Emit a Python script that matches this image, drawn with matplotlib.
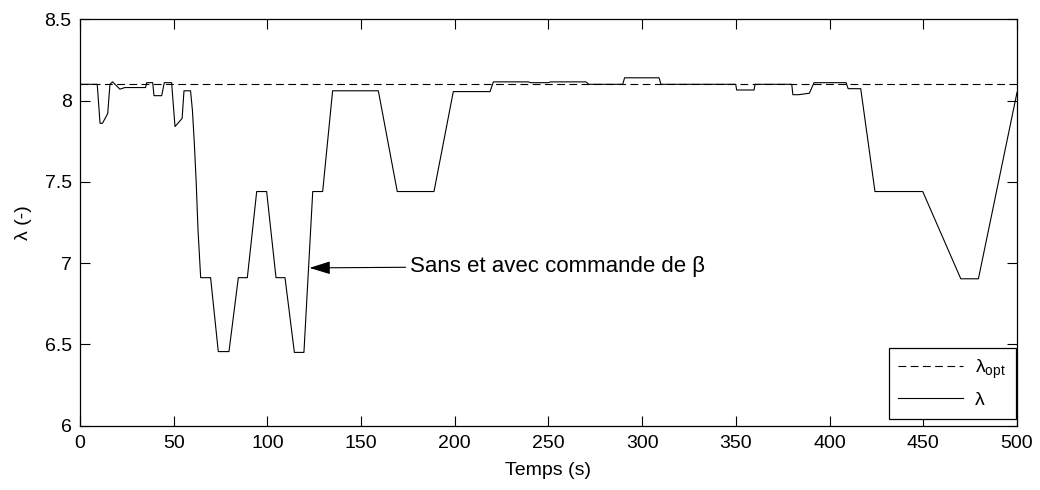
import matplotlib
matplotlib.use("Agg")
import matplotlib.pyplot as plt

plt.rcParams["font.family"] = ["Liberation Sans", "DejaVu Sans"]
plt.rcParams["mathtext.fontset"] = "custom"
plt.rcParams["mathtext.rm"] = "Liberation Sans"
plt.rcParams["mathtext.it"] = "Liberation Sans"

# lambda opt reference
lambda_opt = 8.1
t_range = [0, 500]

# lambda(t) breakpoints
time_s = [0, 9.2, 10.7, 12.0, 14.8, 16.0, 17.4, 21.3, 24.0, 35.0,
          35.6, 38.8, 39.5, 43.6, 45.0, 48.9, 50.7, 54.5, 55.5, 59.0,
          60.0, 61.0, 62.0, 63.0, 64.4, 69.7, 73.8, 79.5, 84.5, 89.3,
          94.3, 99.6, 104.6, 109.4, 114.4, 119.5, 124.2, 129.5, 134.8, 159.2,
          169.3, 188.9, 199.2, 218.8, 220.6, 239.2, 240.5, 250.0, 251.0, 270.0,
          271.5, 289.6, 290.6, 309.0, 310.0, 349.9, 350.4, 359.7, 360.2, 379.8,
          380.4, 383.5, 389.2, 391.7, 408.8, 409.9, 416.6, 424.2, 449.7, 470.0,
          479.4, 500.0]

lam = [8.10, 8.10, 7.86, 7.86, 7.92, 8.10, 8.115, 8.07, 8.08, 8.08,
       8.11, 8.11, 8.03, 8.03, 8.11, 8.11, 7.84, 7.89, 8.06, 8.06,
       7.94, 7.74, 7.50, 7.20, 6.91, 6.91, 6.455, 6.455, 6.91, 6.91,
       7.44, 7.44, 6.91, 6.91, 6.45, 6.45, 7.44, 7.44, 8.06, 8.06,
       7.44, 7.44, 8.055, 8.055, 8.115, 8.115, 8.11, 8.11, 8.115, 8.115,
       8.10, 8.10, 8.14, 8.14, 8.10, 8.10, 8.065, 8.065, 8.10, 8.10,
       8.036, 8.036, 8.045, 8.11, 8.11, 8.073, 8.073, 7.44, 7.44, 6.903,
       6.903, 8.05]

xticks = [0, 50, 100, 150, 200, 250, 300, 350, 400, 450, 500]
yticks = [6, 6.5, 7, 7.5, 8, 8.5]
ytick_labels = ["6", "6.5", "7", "7.5", "8", "8.5"]

note_text = "Sans et avec commande de \u03b2"
note_tip = (122.5, 6.97)
note_pos = (176, 6.98)


fig = plt.figure(figsize=(10.4, 4.9), dpi=100)
ax = fig.add_axes([0.0769, 0.1316, 0.9010, 0.8290])

ax.plot(
    t_range,
    [lambda_opt, lambda_opt],
    color="black",
    linewidth=0.8,
    linestyle=(0, (7, 4)),
    label=r"$\mathregular{\lambda_{opt}}$"
)

ax.plot(
    time_s,
    lam,
    color="black",
    linewidth=0.8,
    label="\u03bb"
)

ax.annotate(
    note_text,
    xy=note_tip,
    xytext=note_pos,
    fontsize=16,
    ha="left",
    va="center",
    arrowprops=dict(
        arrowstyle="-|>,head_length=0.8,head_width=0.25",
        color="black",
        linewidth=0.8,
        shrinkA=1,
        shrinkB=0
    )
)

ax.set_xlim(0, 500)
ax.set_ylim(6, 8.5)
ax.set_xticks(xticks)
ax.set_yticks(yticks)
ax.set_yticklabels(ytick_labels)

ax.tick_params(
    direction="in",
    length=7,
    width=0.8,
    top=True,
    right=True,
    labelsize=14
)
ax.tick_params(axis="x", pad=7)
ax.tick_params(axis="y", pad=6)

for spine in ax.spines.values():
    spine.set_linewidth(0.9)

ax.set_xlabel("Temps (s)", fontsize=14, labelpad=7)
ax.set_ylabel("\u03bb (-)", fontsize=14, labelpad=9)

leg = ax.legend(
    loc="lower right",
    bbox_to_anchor=(0.9986, 0.016),
    fontsize=14,
    handlelength=3.3,
    borderaxespad=0,
    borderpad=0.5,
    labelspacing=0.55,
    handletextpad=0.65,
    fancybox=False,
    framealpha=1
)
leg.get_frame().set_edgecolor("black")
leg.get_frame().set_linewidth(0.9)

fig.savefig("out.png", dpi=100)
plt.close(fig)
